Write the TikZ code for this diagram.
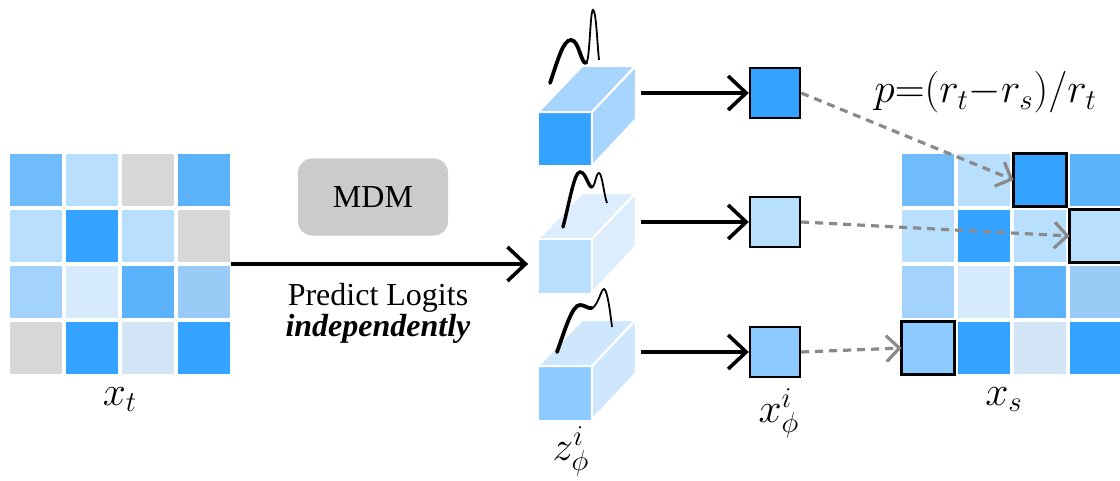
\documentclass[tikz,border=0pt]{standalone}
\usepackage{fontspec}
\setmainfont{Liberation Serif}
\usetikzlibrary{arrows.meta,calc,fit,positioning}

\definecolor{bA}{HTML}{6FBBFC}
\definecolor{bB}{HTML}{B8DFFD}
\definecolor{bC}{HTML}{5CB3FC}
\definecolor{bD}{HTML}{33A3FF}
\definecolor{bE}{HTML}{A3D3FC}
\definecolor{bF}{HTML}{D6EBFD}
\definecolor{bG}{HTML}{99CBF7}
\definecolor{bH}{HTML}{D3E6F7}
\definecolor{bI}{HTML}{8CCAFF}
\definecolor{gr}{HTML}{D8D8D8}
\definecolor{cA}{HTML}{A8D5FD}
\definecolor{cB}{HTML}{DCEEFD}
\definecolor{cC}{HTML}{CFE7FD}
\definecolor{dashgray}{HTML}{8A8A8A}
\definecolor{mdmgray}{HTML}{CBCBCB}

\begin{document}
\begin{tikzpicture}[x=0.5pt,y=-0.5pt,
  cell/.style={minimum size=26pt,inner sep=0pt,fill=#1},
  pick/.style={cell=#1,draw=black,line width=1.2pt,minimum size=25pt},
  arr/.style={line width=1.8pt,-{Straight Barb[length=9pt,width=17pt]}},
  darr/.style={dashgray,line width=1.6pt,dash pattern=on 4pt off 3pt,
    -{Straight Barb[length=6.5pt,width=13pt]}},
  face/.style={draw=white,line width=1pt},
  lbl/.style={inner sep=0pt,font=\fontsize{21}{25}\selectfont}]
  \useasboundingbox (0,0) rectangle (1120,481);

  % token grids
  \foreach \row/\cols in {1/{bA,bB,gr,bC},2/{bB,bD,bB,gr},3/{bE,bF,bC,bG},4/{gr,bD,bH,bD}}
    \foreach \c [count=\col] in \cols
      \node[cell=\c] (lg-\row-\col) at ({36+56*(\col-1)},{180+56*(\row-1)}) {};
  \foreach \row/\cols in {1/{bA,bB,bD,bC},2/{bB,bD,bB,bB},3/{bE,bF,bC,bG},4/{bI,bD,bH,bD}}
    \foreach \c [count=\col] in \cols
      \node[cell=\c] (rg-\row-\col) at ({928+56*(\col-1)},{180+56*(\row-1)}) {};
  \foreach \r/\c in {1/3,2/4,4/1}
    \draw[line width=1.2pt] (rg-\r-\c.south west) rectangle (rg-\r-\c.north east);
  \node[fit=(lg-1-1)(lg-4-4),inner sep=0pt] (xt) {};
  \node[fit=(rg-1-1)(rg-4-4),inner sep=0pt] (xs) {};
  \node[lbl,below=6pt of xt] (xtlbl) {$x_t$};
  \node[lbl,below=6pt of xs,xshift=-4pt] (xslbl) {$x_s$};

  % model
  \node[fill=mdmgray,rounded corners=7pt,minimum width=75pt,minimum height=38.5pt,
    font=\fontsize{16}{19}\selectfont] (mdm) at (373,197) {MDM};
  \node[inner sep=0pt,align=center,anchor=north,font=\fontsize{16}{13.5}\selectfont]
    (pred) at (378,283) {Predict Logits\\\textbf{\textit{independently}}};

  % logit cubes
  \foreach \i/\y/\fr/\bk in {1/139/bD/cA,2/266/bB/cB,3/393/bI/cC} {
    \node[cell=\fr,minimum size=26.5pt] (cf\i) at (565,\y) {};
    \path[face,fill=\bk] (cf\i.north west) -- ++(44,-46) -- ++(53,0) -- (cf\i.north east) -- cycle;
    \path[face,fill=\bk] (cf\i.north east) -- ++(44,-46) -- ++(0,53) -- (cf\i.south east) -- cycle;
    \coordinate (cb\i) at ($(cf\i.east)+(44,-46)$);
  }
  \draw[arr,shorten >=5pt] (xt.east) -- (xt.east -| cf2.west);

  % densities
  \draw[line width=1.9pt,line cap=round] (550,83) .. controls (558,60) and (563,40) .. (571,40)
    .. controls (579,40) and (581,64) .. (586,63);
  \draw[line width=0.9pt] (586,63) .. controls (590,62) and (590,10) .. (593,10)
    .. controls (596,10) and (597,40) .. (599,60);
  \draw[line width=1.7pt,line cap=round] (563,227) .. controls (569,205) and (574,172) .. (580,172)
    .. controls (586,172) and (588,187) .. (592,187);
  \draw[line width=0.9pt] (592,187) .. controls (595,187) and (596,173) .. (599,173)
    .. controls (602,173) and (604,195) .. (607,203);
  \draw[line width=1.9pt,line cap=round] (557,352) .. controls (565,330) and (572,305) .. (580,305)
    .. controls (585,305) and (588,309) .. (592,308);
  \draw[line width=0.9pt] (592,308) .. controls (598,306) and (601,289) .. (604,289)
    .. controls (607,289) and (610,310) .. (612,327);
  \node[lbl,below=3pt of cf3,xshift=3pt] (zlbl) {$z_\phi^i$};

  % sampled tokens
  \foreach \i/\y/\c in {1/93/bD,2/222/bB,3/352/bI} {
    \node[pick=\c] (xp\i) at (775,\y) {};
    \draw[arr,shorten <=2.5pt] (xp\i.west -| cb\i) -- (xp\i.west);
  }
  \node[lbl,below=5pt of xp3,xshift=2pt] (xplbl) {$x_\phi^i$};

  \draw[darr] (xp1.east) -- (rg-1-3.west);
  \draw[darr] (xp2.east) -- (rg-2-4.west);
  \draw[darr] (xp3.east) -- (rg-4-1.west);
  \node[inner sep=0pt,anchor=base west,font=\fontsize{22}{26}\selectfont] (plbl) at (874,103)
    {$p{=}(r_t{-}r_s)/r_t$};
\end{tikzpicture}
\end{document}
